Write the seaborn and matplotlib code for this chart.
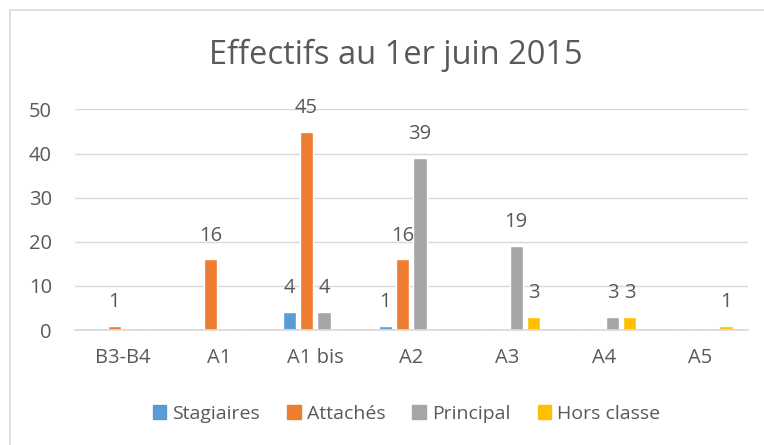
import numpy as np
import pandas as pd
import seaborn as sns
import matplotlib.pyplot as plt
from matplotlib.patches import Rectangle

# Data
categories = ["B3-B4", "A1", "A1 bis", "A2", "A3", "A4", "A5"]
series = ["Stagiaires", "Attachés", "Principal", "Hors classe"]
stagiaires = [0, 0, 4, 1, 0, 0, 0]
attaches = [1, 16, 45, 16, 0, 0, 0]
principal = [0, 0, 4, 39, 19, 3, 0]
hors_classe = [0, 0, 0, 0, 3, 3, 1]
colors = ["#5B9BD5", "#ED7D31", "#A5A5A5", "#FFC000"]

values = [stagiaires, attaches, principal, hors_classe]
df = pd.DataFrame({
    "cat": np.tile(categories, len(series)),
    "serie": np.repeat(series, len(categories)),
    "val": np.concatenate(values),
})

sns.set_theme(style="white")
plt.rcParams['font.family'] = ['Open Sans', 'DejaVu Sans']
text_col = "#595959"
fs = 14.5

fig = plt.figure(figsize=(7.64, 4.45), dpi=100)
ax = fig.add_axes([0.098, 0.2584, 0.881, 0.4956])

sns.barplot(data=df, x="cat", y="val", hue="serie", order=categories,
            hue_order=series, palette=colors, width=0.72, ax=ax,
            saturation=1, legend=False)

# shrink bars a bit to leave small gaps between them
for p in ax.patches:
    w = p.get_width()
    p.set_x(p.get_x() + w * 0.115)
    p.set_width(w * 0.77)

for cont, vals in zip(ax.containers, values):
    labels = [str(v) if v else "" for v in vals]
    ax.bar_label(cont, labels=labels, padding=10, fontsize=fs, color=text_col)

ax.set_ylim(0, 50)
ax.set_yticks(range(0, 51, 10))
ax.set_xlim(-0.5, len(categories) - 0.5)
ax.yaxis.grid(True, color="#D9D9D9", linewidth=1)
ax.set_axisbelow(True)
for s in ["top", "right", "left"]:
    ax.spines[s].set_visible(False)
ax.spines["bottom"].set_color("#D9D9D9")
ax.tick_params(axis="both", length=0, labelsize=fs, colors=text_col)
ax.tick_params(axis="x", pad=13)
ax.tick_params(axis="y", pad=16.5)
ax.set_xlabel("")
ax.set_ylabel("")

fig.text(0.518, 1 - 64 / 445, "Effectifs au 1er juin 2015", ha="center", va="baseline",
         fontsize=23.5, color=text_col)

handles = [Rectangle((0, 0), 1, 1, color=c) for c in colors]
fig.legend(handles, series, loc="center", bbox_to_anchor=(0.532, 1 - 414 / 445), ncol=4,
           frameon=False, fontsize=14, handlelength=0.7, handleheight=0.7,
           handletextpad=0.3, columnspacing=1.4, labelcolor=text_col)

# chart border (left and top visible)
fig.add_artist(Rectangle((10 / 764, -0.1), 1.0, 1.1 - 10 / 445, transform=fig.transFigure,
                         fill=False, edgecolor="#D9D9D9", linewidth=1.2))

fig.savefig("out.png", dpi=100)
